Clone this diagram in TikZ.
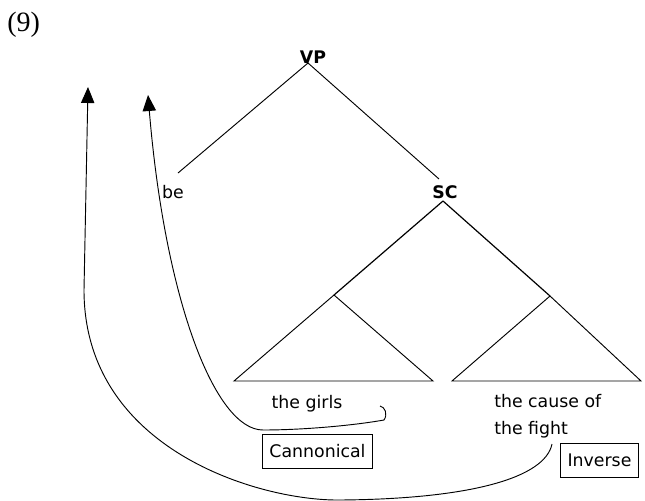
\documentclass[tikz,border=0pt]{standalone}
\usepackage{fontspec}
\setsansfont{DejaVu Sans}
\newfontfamily\exnumfont{Liberation Serif}
\usetikzlibrary{arrows.meta,positioning}
\tikzset{
  cat/.style={
    font=\sffamily\bfseries\fontsize{13}{15}\selectfont,
    inner sep=2pt
  },
  word/.style={
    font=\sffamily\fontsize{13}{20.25}\selectfont,
    align=left,
    inner sep=0pt
  },
  tag/.style={
    draw,
    line width=0.6pt,
    font=\sffamily\fontsize{13}{15}\selectfont,
    inner xsep=5.5pt,
    inner ysep=0pt,
    minimum height=25.5pt
  },
  branch/.style={
    line width=0.7pt
  },
  scbranch/.style={
    line width=0.9pt
  },
  movearrow/.style={
    -{Triangle[length=12pt,width=10pt]},
    line width=0.7pt
  }
}

\begin{document}
\begin{tikzpicture}[x=0.75pt,y=-0.75pt]
    \useasboundingbox (0,0) rectangle (645,500);
    \node[font=\exnumfont\fontsize{21}{24}\selectfont, anchor=north west, inner sep=0pt] (num) at (7,12) {(9)};
    % tree
    \node[cat] (vp) at (313,57) {VP};
    \node[word] (be) at (173,192) {be};
    \node[cat] (sc) at (445,192) {SC};
    \coordinate (vpfoot) at (308,63);
    \coordinate (befoot) at (178,173);
    \coordinate (sctop) at (439,179);
    \coordinate (scfoot) at (443,201);
    \draw[branch] (vpfoot) -- (befoot);
    \draw[branch] (vpfoot) -- (sctop);
    % triangles
    \coordinate (girls-apex) at (334,295);
    \coordinate (girls-left) at (234,381);
    \coordinate (girls-right) at (433,381);
    \coordinate (cause-apex) at (550,296);
    \coordinate (cause-left) at (452,381);
    \coordinate (cause-right) at (641,381);
    \foreach \t in {girls,cause} {
      \draw[scbranch] (scfoot) -- (\t-apex);
      \draw[branch] (\t-apex) -- (\t-left) -- (\t-right) -- cycle;
    }
    \node[word] (girls) at (307,404) {the girls};
    \node[word, anchor=west] (cause) at (494,416) {the cause of\\the fight};
    \node[tag] (canon) at (317.5,451) {Cannonical};
    \node[tag] (inverse) at (599.5,460) {Inverse};
    % movement
    \coordinate (canonstart) at (380,406);
    \coordinate (canontip) at (148,95);
    \coordinate (invstart) at (552,444);
    \coordinate (invtip) at (88,87);
    \draw[movearrow] (canonstart) .. controls (385,407) and (388,414) .. (384,420)
      .. controls (350,426) and (300,430) .. (263,430)
      .. controls (215,430) and (165,300) .. (canontip);
    \draw[movearrow] (invstart) .. controls (545,478) and (470,499) .. (340,500)
      .. controls (260,501) and (84,450) .. (84,290) -- (invtip);
\end{tikzpicture}
\end{document}
